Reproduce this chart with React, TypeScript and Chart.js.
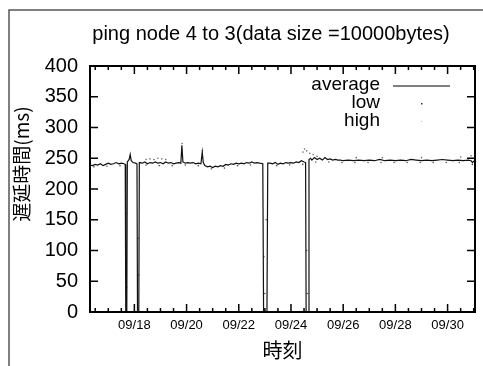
import React, { useEffect, useRef } from "react";
import { Chart, registerables } from "chart.js";

Chart.register(...registerables);

// ---- data (x = day of September, y = delay in ms) ----
const avgDays = [
  16.3, 16.4, 16.5, 16.6, 16.7, 16.8, 16.9, 17.0, 17.1, 17.2, 17.3, 17.4, 17.5, 17.6, 17.65,
  17.67, 17.71, 17.73, 17.8, 17.84, 17.88, 17.95, 18.05, 18.1,
  18.12, 18.17, 18.19,
  18.3, 18.4, 18.5, 18.6, 18.7, 18.8, 18.9, 19.0, 19.1, 19.2, 19.3, 19.4, 19.5, 19.6, 19.7, 19.78,
  19.82, 19.86, 19.95, 20.05, 20.15, 20.25, 20.35, 20.45, 20.55, 20.6, 20.64, 20.7, 20.8, 20.9,
  21.0, 21.1, 21.2, 21.3, 21.4, 21.5, 21.6, 21.7, 21.8, 21.9, 22.0, 22.1, 22.2, 22.3, 22.4, 22.5,
  22.6, 22.7, 22.8, 22.92,
  22.95, 23.08, 23.11,
  23.2, 23.3, 23.4, 23.5, 23.6, 23.7, 23.8, 23.9, 24.0, 24.1, 24.2, 24.3, 24.4, 24.5, 24.56,
  24.58, 24.66, 24.69,
  24.75, 24.8, 24.9, 25.0, 25.1, 25.2, 25.3, 25.4, 25.5, 25.6, 25.7, 25.8, 25.9, 26.0, 26.2, 26.4,
  26.6, 26.8, 27.0, 27.2, 27.4, 27.6, 27.8, 28.0, 28.2, 28.4, 28.6, 28.8, 29.0, 29.2, 29.4, 29.6,
  29.8, 30.0, 30.2, 30.4, 30.6, 30.8, 30.9, 30.95, 31.0, 31.05,
];
const avgMs = [
  239, 238, 240, 239, 241, 238, 240, 242, 240, 241, 243, 241, 242, 241, 240,
  0, 0, 244, 248, 256, 246, 243, 242, 241,
  0, 0, 243,
  242, 244, 241, 243, 242, 244, 242, 243, 241, 244, 242, 243, 241, 242, 243, 242,
  271, 244, 242, 243, 242, 243, 241, 242, 241, 260, 243, 238, 236, 237,
  235, 237, 236, 238, 237, 240, 239, 241, 240, 242, 241, 242, 241, 243, 242, 244,
  242, 243, 242, 241,
  0, 0, 242,
  242, 241, 243, 240, 242, 241, 243, 242, 243, 242, 244, 243, 246, 244, 243,
  0, 0, 248,
  250, 247, 251, 248, 250, 247, 251, 248, 249, 247, 248, 247, 247, 246, 247, 246,
  247, 246, 247, 246, 248, 246, 247, 246, 247, 246, 248, 247, 246, 247, 246, 247,
  248, 247, 246, 247, 246, 247, 246, 243, 245, 246,
];
const lowDays = [
  16.45, 16.95, 17.45, 17.68, 17.7, 18.14, 18.16, 18.45, 18.95, 19.45, 19.95, 20.45, 20.95,
  21.45, 21.95, 22.45, 22.96, 23.0, 23.05, 23.45, 23.95, 24.45, 24.6, 24.63, 24.95, 25.45,
  25.95, 26.45, 26.95, 27.45, 27.95, 28.45, 28.95, 29.45, 29.95, 30.45, 30.95,
];
const lowMs = [
  236, 237, 238, 160, 40, 120, 60, 239, 238, 238, 239, 238, 233,
  234, 238, 239, 90, 30, 150, 238, 239, 240, 100, 30, 244, 244,
  243, 243, 243, 243, 243, 243, 243, 243, 243, 243, 240,
];
const highDays = [
  18.45, 18.6, 18.75, 18.9, 19.05, 19.2, 19.83, 20.61, 24.46, 24.52, 24.6, 24.72, 24.85,
  25.0, 26.5, 27.5, 29.0, 30.5, 30.9,
];
const highMs = [
  248, 249, 248, 250, 249, 248, 274, 262, 260, 265, 262, 258, 256,
  253, 251, 251, 251, 252, 254,
];
const xTickDays = [18, 20, 22, 24, 26, 28, 30];
const xTickLabels = ["09/18", "09/20", "09/22", "09/24", "09/26", "09/28", "09/30"];
const legendLabels = ["average", "low", "high"];
const titleText = "ping node 4 to 3(data size =10000bytes)";
const yTitleText = "遅延時間(ms)";
const xTitleText = "時刻";

const SANS = '"Liberation Sans", Arial, Helvetica, sans-serif';
const CJK = '"Noto Sans CJK JP", "Noto Sans CJK SC", sans-serif';

const framePlugin = {
  id: "gnuplotFrame",
  afterDraw(chart: any) {
    const { ctx, chartArea } = chart;
    const { left, right, top, bottom } = chartArea;
    const xs = chart.scales.x;
    const ys = chart.scales.y;
    ctx.save();
    // outer scan frame
    ctx.strokeStyle = "#555";
    ctx.lineWidth = 1.5;
    ctx.beginPath();
    ctx.moveTo(9, 366);
    ctx.lineTo(9, 10);
    ctx.lineTo(483, 10);
    ctx.stroke();
    // title
    ctx.fillStyle = "#000";
    ctx.font = `20px ${SANS}`;
    ctx.textAlign = "center";
    ctx.textBaseline = "alphabetic";
    ctx.fillText(titleText, 271, 40);
    // plot border
    ctx.strokeStyle = "#000";
    ctx.lineWidth = 2;
    ctx.strokeRect(left, top, right - left, bottom - top);
    // y ticks (inward, mirrored)
    ctx.lineWidth = 1.5;
    ctx.beginPath();
    for (const t of ys.ticks) {
      const py = ys.getPixelForValue(t.value);
      ctx.moveTo(left, py);
      ctx.lineTo(left + 8, py);
      ctx.moveTo(right, py);
      ctx.lineTo(right - 8, py);
    }
    // x ticks every 12h, major every 2 days
    for (let d = Math.ceil(xs.min * 2) / 2; d <= xs.max; d += 0.5) {
      const px = xs.getPixelForValue(d);
      const len = d % 2 === 0 ? 8 : 4;
      ctx.moveTo(px, bottom);
      ctx.lineTo(px, bottom - len);
      ctx.moveTo(px, top);
      ctx.lineTo(px, top + len);
    }
    ctx.stroke();
    // legend (gnuplot style)
    ctx.fillStyle = "#000";
    ctx.font = `19px ${SANS}`;
    ctx.textAlign = "right";
    ctx.textBaseline = "middle";
    const rows = [85, 103, 121];
    legendLabels.forEach((l, i) => ctx.fillText(l, 380, rows[i]));
    ctx.lineWidth = 1;
    ctx.beginPath();
    ctx.moveTo(393, 86);
    ctx.lineTo(450, 86);
    ctx.stroke();
    ctx.fillStyle = "#333";
    ctx.fillRect(421, 103, 1.5, 1.5);
    ctx.fillStyle = "#bbb";
    ctx.fillRect(421, 121, 1, 1);
    // y axis title
    ctx.fillStyle = "#000";
    ctx.translate(22, 164);
    ctx.rotate(-Math.PI / 2);
    ctx.textAlign = "center";
    ctx.font = `19px ${CJK}`;
    ctx.fillText(yTitleText, 0, 0);
    ctx.restore();
  },
};

export default function App() {
  const ref = useRef<HTMLCanvasElement>(null);
  useEffect(() => {
    if (!ref.current) return;
    const chart = new Chart(ref.current, {
      type: "line",
      data: {
        datasets: [
          {
            label: "average",
            data: avgDays.map((d, i) => ({ x: d, y: avgMs[i] })),
            borderColor: "#111",
            borderWidth: 1.2,
            pointRadius: 0,
            tension: 0,
          },
          {
            label: "low",
            data: lowDays.map((d, i) => ({ x: d, y: lowMs[i] })),
            showLine: false,
            pointRadius: 0.8,
            pointBorderWidth: 0,
            pointBackgroundColor: "#555",
          },
          {
            label: "high",
            data: highDays.map((d, i) => ({ x: d, y: highMs[i] })),
            showLine: false,
            pointRadius: 0.8,
            pointBorderWidth: 0,
            pointBackgroundColor: "#666",
          },
        ],
      },
      options: {
        responsive: false,
        animation: false,
        layout: { padding: { left: 0, right: 8, top: 66, bottom: 0 } },
        plugins: {
          legend: { display: false },
          tooltip: { enabled: false },
          title: { display: false },
        },
        scales: {
          x: {
            type: "linear",
            min: 16.3,
            max: 31.05,
            grid: { display: false, drawTicks: false },
            border: { display: false },
            afterFit: (s: any) => {
              s.height = 54;
            },
            afterBuildTicks: (s: any) => {
              s.ticks = xTickDays.map((v) => ({ value: v }));
            },
            ticks: {
              autoSkip: false,
              maxRotation: 0,
              padding: 6,
              color: "#000",
              font: { family: SANS, size: 13 },
              callback: (v: any) => {
                const i = xTickDays.indexOf(Number(v));
                return i >= 0 ? xTickLabels[i] : "";
              },
            },
            title: {
              display: true,
              text: xTitleText,
              color: "#000",
              font: { family: CJK, size: 20 },
              padding: { top: 0, bottom: 4 },
            },
          },
          y: {
            min: 0,
            max: 400,
            grid: { display: false, drawTicks: false },
            border: { display: false },
            afterFit: (s: any) => {
              s.width = 90;
            },
            ticks: {
              stepSize: 50,
              padding: 12,
              color: "#000",
              font: { family: SANS, size: 20 },
            },
          },
        },
      },
      plugins: [framePlugin],
    });
    return () => chart.destroy();
  }, []);
  return (
    <div style={{ position: "fixed", left: 0, top: 0, width: 483, height: 366, background: "#fff" }}>
      <canvas ref={ref} width={483} height={366} style={{ display: "block" }} />
    </div>
  );
}
